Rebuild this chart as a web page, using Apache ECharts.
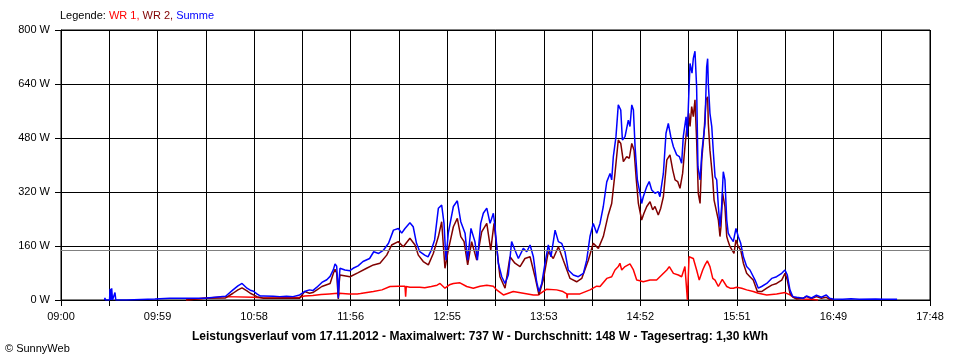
<!DOCTYPE html>
<html>
<head>
<meta charset="utf-8">
<script src="https://cdn.jsdelivr.net/npm/echarts@6/dist/echarts.min.js"></script>
<style>
html,body{margin:0;padding:0;background:#fff;}
#chart{width:960px;height:360px;}
</style>
</head>
<body>
<div id="chart"></div>
<script>
// x tick labels (one per vertical grid line; empty = unlabeled line)
const xTickLabels = ['09:00','','09:59','','10:58','','11:56','','12:55','','13:53','','14:52','','15:51','','16:49','','17:48'];
const totalMinutes = 528;           // 09:00 .. 17:48
const gridLines = 18;
const avgValue = 148;               // Durchschnitt

// [minutes since 09:00, W]
const wr1 = [[76,0],[77,5],[87,5],[88,8],[100,10],[117,8],[121,7],[130,6],[145,8],[148,12],[153,13],[158,16],[163,18],[168,20],[168.5,10],[169,20],[175,18],[180,18],[182,19],[189.8,25],[195,30],[199.9,40],[205,41],[209,41],[209.4,10],[209.8,40],[212,38],[218,38],[221,36],[225,40],[228.5,44],[230.3,49],[233.3,35],[234.3,30],[236,45],[238.4,49],[242.4,51],[246.5,40],[250.5,35],[254.6,41],[258.7,44],[262.7,41],[264.7,30],[268.8,15],[274.8,25],[280.9,20],[287,15],[290,15],[295.1,32],[301.2,30],[305,25],[307.3,18],[307.5,5],[307.8,18],[315.3,18],[321.4,30],[325.5,41],[327.5,40],[331.6,64],[334.6,69],[336.6,89],[338.6,99],[339.6,109],[340.7,89],[342.7,99],[345.7,107],[347.8,89],[349.8,59],[351.8,57],[353.8,54],[357.9,59],[361.9,59],[365,74],[368.1,89],[369.6,99],[372.1,79],[375.1,74],[377.1,69],[379.1,99],[380.3,94],[380.6,0],[381.3,0],[381.6,128],[384.2,123],[386.2,89],[387.8,59],[389.9,89],[391.3,104],[392.7,116],[394.3,99],[396,64],[397.4,59],[399.4,40],[400.4,38],[401.8,61],[402.8,64],[404.5,40],[406.5,35],[408.5,35],[410.5,38],[413.6,35],[416.6,30],[420.6,25],[423.7,20],[428.8,15],[434.8,18],[439.9,22],[442.9,15],[445,8],[447,5],[451,3],[455,2],[460,0]];

const wr2 = [[76,0],[77,5],[87,5],[100,6],[101,10],[104.5,20],[107.5,30],[110,36],[113,27],[115,20],[117,15],[119,10],[123,5],[145,5],[146,8],[148,25],[151,20],[153,22],[155.5,30],[158.5,40],[163.5,49],[165.5,79],[166.5,91],[167.5,80],[168,40],[168.5,3],[169,50],[169.5,74],[175.6,69],[180.6,81],[185.7,94],[189.8,104],[193.8,109],[197.9,133],[200.9,163],[204.9,173],[208,158],[212,183],[215.1,163],[217.1,133],[220.1,114],[223.2,104],[226.2,138],[229.3,188],[231.3,232],[233.3,94],[235.3,148],[238.4,217],[240.8,242],[242.9,188],[244.9,173],[247.1,104],[249.5,173],[252.6,118],[255.6,202],[258.7,227],[261.1,148],[263.1,227],[264.7,158],[266.7,69],[269.8,35],[272.8,128],[275.8,109],[278.9,99],[281.9,123],[285,128],[288,69],[290.4,15],[293,59],[296.1,143],[299.1,123],[302.2,158],[305.2,118],[309.3,64],[313.3,54],[316.4,64],[320.4,118],[323.4,168],[326.5,153],[329.5,188],[332.5,252],[334.6,286],[336.6,375],[338.6,474],[340.1,464],[341.7,410],[343.7,425],[345.3,420],[346.8,464],[348.2,444],[349.4,365],[350.8,286],[352.8,237],[354.2,257],[355.9,277],[357.9,291],[359.5,267],[360.9,277],[362.9,252],[364.4,272],[366,306],[368.1,415],[370,430],[371.7,385],[373.1,356],[374.7,351],[376.1,331],[377.7,375],[379.1,454],[380.5,523],[381.4,553],[382.2,514],[383.2,573],[384.2,543],[385.2,593],[386.2,474],[387.2,316],[388.3,286],[389.3,415],[390.7,494],[391.9,593],[392.9,602],[393.3,523],[394.3,444],[396,356],[396.8,296],[398,301],[399.4,237],[400.4,188],[401,217],[402,316],[403.4,277],[404.5,188],[405.4,173],[406.5,158],[407.5,163],[408.9,138],[410.1,178],[411.5,158],[413,148],[414.6,109],[416.6,79],[418.6,69],[420.6,59],[423.1,25],[425.7,25],[428.8,35],[431.8,44],[434.8,49],[437.9,59],[439.9,79],[441.3,59],[442.9,20],[445,8],[447,3],[451,6],[453,10],[456,4],[459,10],[462,5],[465,8],[467,2],[469,0]];

const summe = [[26.5,0],[26.7,6],[27,0],[29.5,0],[29.8,33],[30.3,0],[30.8,35],[31.3,0],[32.5,0],[32.8,22],[33.3,0],[40,0],[40.2,3],[57,3],[66,5],[87,5],[88,8],[100,11],[101,15],[104.5,30],[107.5,42],[110,49],[111,47],[113,35],[115,29],[117,26],[119,18],[121,12],[123,12],[129,11],[133,10],[137,11],[141,10],[145,15],[148,25],[151,30],[153,28],[155.5,38],[158.5,52],[161.5,60],[163.5,70],[165.5,90],[166.5,107],[167.5,100],[168,60],[168.5,5],[169,60],[169.5,94],[172.5,89],[175.5,87],[177.5,94],[180.5,101],[183.5,114],[187.5,123],[190,143],[193,138],[196,148],[199,168],[202,207],[205,212],[207,198],[209,212],[212,229],[214,217],[216,168],[218,143],[221,133],[223,128],[225,148],[227,178],[229.3,272],[231.3,281],[232.7,228],[233.9,118],[235.3,198],[238.4,277],[240.8,294],[242.9,232],[245.5,198],[247.1,118],[249.1,212],[251.5,173],[253,118],[255,227],[256.6,257],[258.7,272],[260.7,227],[262.7,257],[263.7,217],[265.7,109],[267.8,69],[269.8,49],[271.8,74],[273.8,173],[275.8,148],[277.9,123],[280.9,153],[283,143],[285,163],[287,128],[289,54],[290.4,25],[292.1,49],[294.1,109],[296.1,163],[297.7,128],[300.2,207],[302.2,173],[304.2,168],[306.2,143],[308.2,89],[311.3,74],[314.3,69],[317.4,79],[319.4,118],[321.4,188],[323.4,227],[325.5,198],[327.5,227],[329.5,277],[331.6,350],[333.6,375],[334.6,356],[335.6,425],[337.2,484],[338.6,578],[340.1,563],[341.1,474],[342.7,484],[344.7,533],[345.7,514],[346.8,578],[347.8,563],[348.8,454],[350.2,356],[351.8,316],[352.8,286],[353.8,306],[355.9,336],[357.4,351],[358.9,326],[360.9,316],[362.9,321],[363.9,306],[366,375],[367.6,494],[369,523],[370.5,484],[372.1,454],[374.1,430],[375.7,425],[377.1,405],[378.1,484],[379.8,543],[380.5,484],[381.4,602],[382.2,701],[383.4,672],[384.2,716],[385.2,737],[386.2,632],[387,395],[388.3,356],[389.5,444],[391.3,523],[392.3,690],[392.9,715],[393.3,642],[394.3,553],[395.4,514],[396.4,435],[397.4,365],[398.4,356],[399.4,277],[400.4,217],[401.4,277],[402.4,380],[403.4,356],[404.5,237],[405.4,198],[406.5,188],[408.5,173],[410.1,212],[411.5,188],[413,168],[414.6,128],[416.6,99],[418.6,89],[421.7,59],[423.7,35],[425.7,40],[428.8,49],[431.8,64],[434.8,69],[437.9,79],[439.9,89],[441.3,74],[442.9,30],[444.6,10],[447,8],[451,5],[453,12],[456,6],[459,14],[462,8],[465,15],[467,5],[469,3],[475,2],[480,4],[485,2],[495,3],[500,2],[508,2]];

const step = totalMinutes / gridLines;
const toXY = arr => arr.map(p => [p[0] / step, p[1]]);

const FONT = '"Liberation Sans", Arial, sans-serif';
const chart = echarts.init(document.getElementById('chart'), null, {renderer: 'canvas'});

function lineSeries(name, data, color, extra) {
  return Object.assign({
    name: name, type: 'line', data: toXY(data), showSymbol: false, symbol: 'none',
    lineStyle: {color: color, width: 1.5}, itemStyle: {color: color},
    animation: false, z: 3
  }, extra || {});
}

chart.setOption({
  backgroundColor: '#ffffff',
  animation: false,
  grid: {left: 61, right: 30, top: 30, bottom: 60, show: true, borderColor: '#000', borderWidth: 1},
  xAxis: {
    type: 'value', min: 0, max: gridLines, interval: 1,
    axisLine: {show: true, lineStyle: {color: '#000', width: 1}},
    axisTick: {show: true, length: 6, lineStyle: {color: '#000', width: 1}},
    splitLine: {show: true, lineStyle: {color: '#000', width: 1}},
    axisLabel: {
      color: '#000', fontFamily: FONT, fontSize: 11, margin: 11,
      showMinLabel: true, showMaxLabel: true,
      formatter: v => { const i = Math.round(v); return xTickLabels[i] || ''; }
    }
  },
  yAxis: {
    type: 'value', min: 0, max: 800, interval: 160,
    axisLine: {show: true, lineStyle: {color: '#000', width: 1}},
    axisTick: {show: true, length: 6, lineStyle: {color: '#000', width: 1}},
    splitLine: {show: true, lineStyle: {color: '#000', width: 1}},
    axisLabel: {color: '#000', fontFamily: FONT, fontSize: 11, margin: 11, formatter: '{value} W'}
  },
  series: [
    lineSeries('WR 1', wr1, '#ff0000', {
      markLine: {
        silent: true, symbol: 'none', label: {show: false},
        lineStyle: {color: '#808080', type: 'solid', width: 1},
        data: [{yAxis: avgValue}], animation: false
      }
    }),
    lineSeries('WR 2', wr2, '#800000'),
    lineSeries('Summe', summe, '#0000ff')
  ],
  graphic: [
    {
      type: 'text', left: 60, top: 10,
      style: {
        text: '{k|Legende: }{a|WR 1,}{b| WR 2,}{c| Summe}',
        rich: {
          k: {fill: '#000', fontFamily: FONT, fontSize: 11},
          a: {fill: '#ff0000', fontFamily: FONT, fontSize: 11},
          b: {fill: '#800000', fontFamily: FONT, fontSize: 11},
          c: {fill: '#0000ff', fontFamily: FONT, fontSize: 11}
        }
      }
    },
    {
      type: 'text', x: 480, y: 337,
      style: {
        text: 'Leistungsverlauf vom 17.11.2012 - Maximalwert: 737 W - Durchschnitt: 148 W - Tagesertrag: 1,30 kWh',
        fill: '#000', fontFamily: FONT, fontSize: 12, fontWeight: 'bold',
        textAlign: 'center', textVerticalAlign: 'middle'
      }
    },
    {
      type: 'text', x: 5, y: 349,
      style: {
        text: '© SunnyWeb', fill: '#000', fontFamily: FONT, fontSize: 11,
        textAlign: 'left', textVerticalAlign: 'middle'
      }
    }
  ]
});
</script>
</body>
</html>
